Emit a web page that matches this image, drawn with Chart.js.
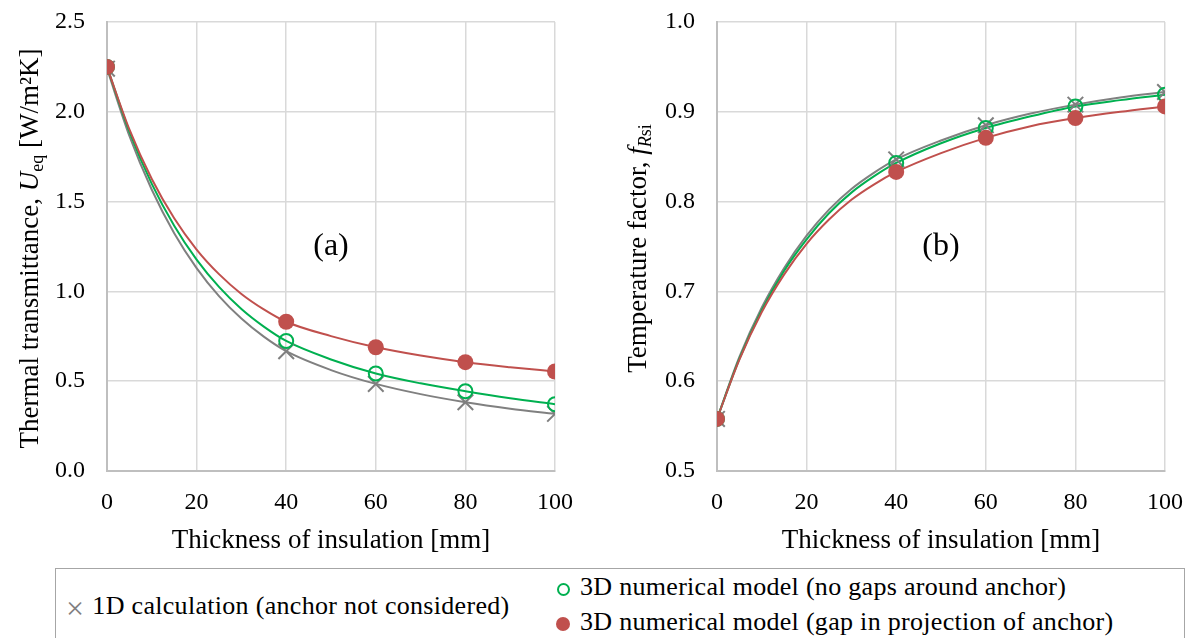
<!DOCTYPE html>
<html>
<head>
<meta charset="utf-8">
<script src="https://cdn.jsdelivr.net/npm/chart.js@4/dist/chart.umd.min.js"></script>
<style>
  html, body { margin:0; padding:0; background:#fff; width:1191px; height:638px; overflow:hidden; }
  #c1 { position:absolute; left:0; top:0; }
  #c2 { position:absolute; left:600px; top:0; }
  #legend { position:absolute; left:55px; top:568px; width:1130px; height:90px; border:1.5px solid #a6a6a6; box-sizing:border-box; font-size:26px; letter-spacing:0.3px; color:#000; }
  .item { position:absolute; white-space:nowrap; line-height:28px; }
  .sym { display:inline-block; vertical-align:middle; margin-right:10px; }
</style>
</head>
<body>
<canvas id="c1" width="600" height="560"></canvas>
<canvas id="c2" width="591" height="560"></canvas>
<div id="legend">
  <div class="item" style="left:10px; top:23px;"><span class="sym" style="color:#808080;font-size:32px;line-height:20px;margin-right:8px;">×</span><span id="lg0"></span></div>
  <div class="item" style="left:500px; top:4px;"><span class="sym" style="width:9px;height:9px;border:2px solid #00b050;border-radius:50%;margin-left:1px;"></span><span id="lg1"></span></div>
  <div class="item" style="left:500px; top:39px;"><span class="sym" style="width:14px;height:14px;background:#c0504d;border-radius:50%;"></span><span id="lg2"></span></div>
</div>
<script>
// ---- data ----
const seriesNames = ["1D calculation (anchor not considered)", "3D numerical model (no gaps around anchor)", "3D numerical model (gap in projection of anchor)"];
const thickness = [0, 40, 60, 80, 100];
// (a) thermal transmittance U_eq [W/m2K]
const uGray  = [2.24, 0.667, 0.485, 0.383, 0.318];
const uGreen = [2.25, 0.724, 0.543, 0.444, 0.372];
const uRed   = [2.25, 0.831, 0.689, 0.606, 0.554];
// (b) temperature factor fRsi
const fGray  = [0.558, 0.847, 0.885, 0.908, 0.922];
const fGreen = [0.558, 0.843, 0.882, 0.906, 0.919];
const fRed   = [0.558, 0.833, 0.871, 0.893, 0.906];
// smooth fitted curves
const curveX      = [0, 5, 10, 15, 20, 25, 30, 35, 40, 50, 60, 70, 80, 90, 100];
const uGrayCurve  = [2.24, 1.866, 1.566, 1.324, 1.13, 0.974, 0.849, 0.748, 0.667, 0.562, 0.485, 0.428, 0.383, 0.347, 0.318];
const uGreenCurve = [2.25, 1.890, 1.599, 1.366, 1.177, 1.025, 0.902, 0.804, 0.724, 0.621, 0.543, 0.488, 0.444, 0.405, 0.372];
const uRedCurve   = [2.25, 1.902, 1.626, 1.407, 1.233, 1.096, 0.986, 0.900, 0.831, 0.751, 0.689, 0.643, 0.606, 0.578, 0.554];
const fGrayCurve  = [0.558, 0.627, 0.682, 0.726, 0.762, 0.791, 0.814, 0.832, 0.847, 0.868, 0.885, 0.898, 0.908, 0.916, 0.922];
const fGreenCurve = [0.558, 0.625, 0.679, 0.723, 0.758, 0.787, 0.810, 0.828, 0.843, 0.865, 0.882, 0.895, 0.906, 0.913, 0.919];
const fRedCurve   = [0.558, 0.624, 0.677, 0.719, 0.753, 0.780, 0.802, 0.819, 0.833, 0.854, 0.871, 0.884, 0.893, 0.900, 0.906];
const xTicks = [0, 20, 40, 60, 80, 100];
const uTicks = [0.0, 0.5, 1.0, 1.5, 2.0, 2.5];
const fTicks = [0.5, 0.6, 0.7, 0.8, 0.9, 1.0];

const GRAY = '#7f7f7f', GREEN = '#00b050', RED = '#c0504d';
const SERIF = '"Liberation Serif", "Times New Roman", Tinos, "DejaVu Serif", serif';
document.getElementById('legend').style.fontFamily = SERIF;

document.getElementById('lg0').textContent = seriesNames[0];
document.getElementById('lg1').textContent = seriesNames[1];
document.getElementById('lg2').textContent = seriesNames[2];

function pts(xs, ys) { return xs.map((x, i) => ({x: x, y: ys[i]})); }

function datasets(g, gr, r, gc, grc, rc) {
  return [
    {type:'scatter', data:pts(thickness, r), backgroundColor:RED, borderColor:RED, pointStyle:'circle', pointRadius:8, borderWidth:0, order:0},
    {type:'scatter', data:pts(thickness, gr), backgroundColor:'rgba(0,0,0,0)', borderColor:GREEN, pointStyle:'circle', pointRadius:7, borderWidth:2, order:1},
    {type:'scatter', data:pts(thickness, g), backgroundColor:GRAY, borderColor:GRAY, pointStyle:'crossRot', pointRadius:11, borderWidth:2, order:2},
    {type:'line', data:pts(curveX, rc), borderColor:RED, borderWidth:2, pointRadius:0, fill:false, cubicInterpolationMode:'monotone', order:3},
    {type:'line', data:pts(curveX, grc), borderColor:GREEN, borderWidth:2, pointRadius:0, fill:false, cubicInterpolationMode:'monotone', order:4},
    {type:'line', data:pts(curveX, gc), borderColor:'#808080', borderWidth:2, pointRadius:0, fill:false, cubicInterpolationMode:'monotone', order:5}
  ];
}

function drawRuns(ctx, runs, cx, cy, rot) {
  ctx.save();
  ctx.translate(cx, cy);
  if (rot) ctx.rotate(-Math.PI / 2);
  let total = 0;
  runs.forEach(r => { ctx.font = r.f; r.w = ctx.measureText(r.t).width; total += r.w; });
  let x = -total / 2;
  ctx.fillStyle = '#000';
  ctx.textBaseline = 'middle';
  ctx.textAlign = 'left';
  runs.forEach(r => { ctx.font = r.f; ctx.fillText(r.t, x, r.dy || 0); x += r.w; });
  ctx.restore();
}

function makeChart(id, ds, yMin, yMax, yTickVals, yTitleRuns, yTitleX, panelLabel, area) {
  const canvas = document.getElementById(id);
  const W = canvas.width, H = canvas.height;
  const titles = {
    id: 'titles',
    afterDraw(chart) {
      const ctx = chart.ctx;
      drawRuns(ctx, yTitleRuns, yTitleX, (area.top + area.bottom) / 2 + 2, true);
      drawRuns(ctx, [{t:'Thickness of insulation [mm]', f:'27px ' + SERIF}], (area.left + area.right) / 2, 541, false);
      const xs = chart.scales.x, ys = chart.scales.y;
      drawRuns(ctx, [{t:panelLabel.text, f:'32px ' + SERIF}], xs.getPixelForValue(panelLabel.x), ys.getPixelForValue(panelLabel.y), false);
    }
  };
  const noPad = s => { s.paddingTop = 0; s.paddingBottom = 0; s.paddingLeft = 0; s.paddingRight = 0; };
  return new Chart(canvas, {
    data: { datasets: ds },
    options: {
      responsive: false,
      animation: false,
      devicePixelRatio: 1,
      layout: { padding: { left: 0, right: W - area.right, top: area.top, bottom: 0 } },
      plugins: { legend: { display: false }, tooltip: { enabled: false } },
      scales: {
        x: {
          type: 'linear', min: 0, max: 100,
          afterBuildTicks: s => { s.ticks = xTicks.map(v => ({value: v})); },
          ticks: { font: { family: SERIF, size: 24 }, color: '#000', padding: 17, maxRotation: 0 },
          grid: { color: '#d9d9d9', lineWidth: 1.5, drawTicks: false },
          border: { color: '#bfbfbf', width: 2 },
          afterFit: s => { s.height = H - area.bottom; noPad(s); }
        },
        y: {
          type: 'linear', min: yMin, max: yMax,
          afterBuildTicks: s => { s.ticks = yTickVals.map(v => ({value: v})); },
          ticks: { font: { family: SERIF, size: 24 }, color: '#000', padding: 22, callback: v => Number(v).toFixed(1) },
          grid: { color: '#d9d9d9', lineWidth: 1.5, drawTicks: false },
          border: { color: '#bfbfbf', width: 2 },
          afterFit: s => { s.width = area.left; noPad(s); }
        }
      }
    },
    plugins: [titles]
  });
}

makeChart('c1', datasets(uGray, uGreen, uRed, uGrayCurve, uGreenCurve, uRedCurve), 0, 2.5, uTicks,
  [{t:'Thermal transmittance, ', f:'27px ' + SERIF}, {t:'U', f:'italic 27px ' + SERIF}, {t:'eq', f:'18px ' + SERIF, dy:7}, {t:' [W/m²K]', f:'27px ' + SERIF}],
  31, {text:'(a)', x:50, y:1.25}, {left:107, right:555, top:22, bottom:471});

makeChart('c2', datasets(fGray, fGreen, fRed, fGrayCurve, fGreenCurve, fRedCurve), 0.5, 1.0, fTicks,
  [{t:'Temperature factor, ', f:'27px ' + SERIF}, {t:'f', f:'italic 27px ' + SERIF}, {t:'R', f:'italic 18px ' + SERIF, dy:7}, {t:'si', f:'18px ' + SERIF, dy:7}],
  39, {text:'(b)', x:50, y:0.75}, {left:117, right:565, top:22, bottom:471});
</script>
</body>
</html>
